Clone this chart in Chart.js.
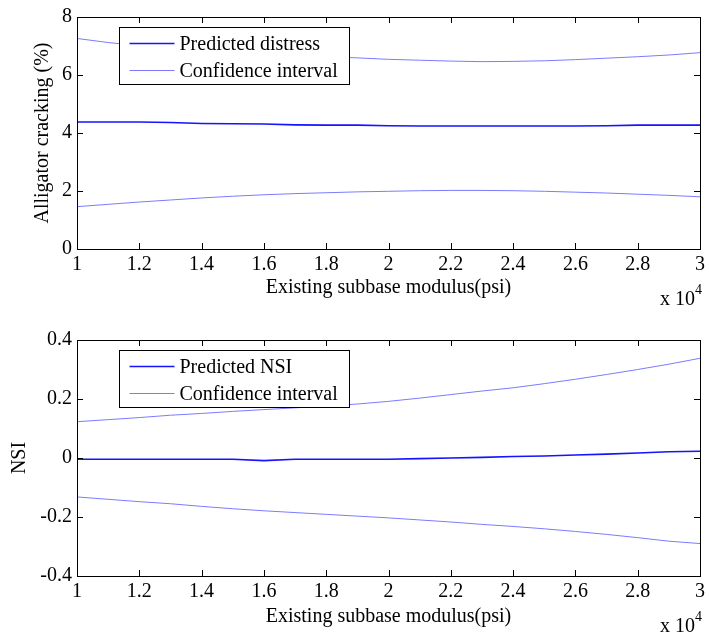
<!DOCTYPE html>
<html>
<head>
<meta charset="utf-8">
<script src="https://cdn.jsdelivr.net/npm/chart.js@4"></script>
<style>
  html, body { margin: 0; padding: 0; background: #fff; }
  .panel { position: absolute; left: 0; width: 709px; }
  #top-panel { top: 0; height: 320px; }
  #bottom-panel { top: 320px; height: 319px; }
</style>
</head>
<body>
<div class="panel" id="top-panel"><canvas id="distressChart" width="709" height="320"></canvas></div>
<div class="panel" id="bottom-panel"><canvas id="nsiChart" width="709" height="319"></canvas></div>
<script>
// Existing subbase modulus (x 10^4 psi)
const modulus = [1.0, 1.1, 1.2, 1.3, 1.4, 1.5, 1.6, 1.7, 1.8, 1.9, 2.0,
  2.1, 2.2, 2.3, 2.4, 2.5, 2.6, 2.7, 2.8, 2.9, 3.0];
const xTicks = [1, 1.2, 1.4, 1.6, 1.8, 2, 2.2, 2.4, 2.6, 2.8, 3];

// Alligator cracking (%)
const distressPredicted = [4.38, 4.38, 4.38, 4.36, 4.33, 4.32, 4.31, 4.28, 4.27, 4.27, 4.25,
  4.24, 4.24, 4.24, 4.24, 4.24, 4.24, 4.25, 4.27, 4.27, 4.27];
const distressUpper = [7.26, 7.12, 7.01, 6.93, 6.86, 6.79, 6.73, 6.68, 6.63, 6.59, 6.54,
  6.51, 6.48, 6.46, 6.47, 6.49, 6.53, 6.58, 6.63, 6.69, 6.77];
const distressLower = [1.46, 1.54, 1.62, 1.69, 1.76, 1.82, 1.87, 1.91, 1.94, 1.97, 1.99,
  2.01, 2.02, 2.02, 2.01, 1.99, 1.96, 1.93, 1.89, 1.85, 1.80];
const distressTicks = [0, 2, 4, 6, 8];

// NSI
const nsiPredicted = [-0.004, -0.004, -0.004, -0.004, -0.004, -0.004, -0.009, -0.004, -0.004, -0.004, -0.004,
  -0.002, 0.0, 0.002, 0.005, 0.007, 0.010, 0.013, 0.017, 0.021, 0.023];
const nsiUpper = [0.123, 0.130, 0.137, 0.145, 0.151, 0.158, 0.164, 0.170, 0.176, 0.183, 0.192,
  0.203, 0.215, 0.227, 0.238, 0.252, 0.267, 0.283, 0.300, 0.318, 0.338];
const nsiLower = [-0.132, -0.140, -0.148, -0.155, -0.164, -0.172, -0.179, -0.185, -0.191, -0.197, -0.203,
  -0.210, -0.217, -0.225, -0.232, -0.240, -0.249, -0.259, -0.270, -0.282, -0.290];
const nsiTicks = [-0.4, -0.2, 0, 0.2, 0.4];

const FONT_FAMILY = '"Liberation Serif", "Times New Roman", serif';
const PRED_COLOR = "#1414ff";
const CI_COLOR = "#7b7bff";

function toPoints(values) {
  return modulus.map((x, i) => ({ x: x, y: values[i] }));
}

// -------------------------
// MATLAB style box, inward ticks, legend and exponent label
// -------------------------
const matlabAxes = {
  id: "matlabAxes",
  afterDraw(chart) {
    const ctx = chart.ctx;
    const area = chart.chartArea;
    const xs = chart.scales.x;
    const ys = chart.scales.y;
    const tickLen = 6;

    ctx.save();
    ctx.strokeStyle = "#000";
    ctx.lineWidth = 1;

    // box
    ctx.strokeRect(Math.round(area.left) + 0.5, Math.round(area.top) + 0.5,
      Math.round(area.right - area.left), Math.round(area.bottom - area.top));

    // inward ticks
    ctx.beginPath();
    xs.ticks.forEach((t) => {
      const px = Math.round(xs.getPixelForValue(t.value)) + 0.5;
      ctx.moveTo(px, area.bottom);
      ctx.lineTo(px, area.bottom - tickLen);
      ctx.moveTo(px, area.top);
      ctx.lineTo(px, area.top + tickLen);
    });
    ys.ticks.forEach((t) => {
      const py = Math.round(ys.getPixelForValue(t.value)) + 0.5;
      ctx.moveTo(area.left, py);
      ctx.lineTo(area.left + tickLen, py);
      ctx.moveTo(area.right, py);
      ctx.lineTo(area.right - tickLen, py);
    });
    ctx.stroke();

    // legend
    const lx = Math.round(area.left) + 42.5;
    const ly = Math.round(area.top) + 10.5;
    const lw = 230;
    const lh = 57;
    ctx.fillStyle = "#fff";
    ctx.fillRect(lx, ly, lw, lh);
    ctx.strokeRect(lx, ly, lw, lh);

    ctx.font = "20px " + FONT_FAMILY;
    ctx.textBaseline = "middle";
    ctx.textAlign = "left";
    const items = chart.data.datasets.filter((d) => d.label);
    items.forEach((d, i) => {
      const rowY = ly + 16 + i * 27;
      ctx.strokeStyle = d.borderColor;
      ctx.lineWidth = d.borderWidth;
      ctx.beginPath();
      ctx.moveTo(lx + 10, rowY);
      ctx.lineTo(lx + 55, rowY);
      ctx.stroke();
      ctx.fillStyle = "#000";
      ctx.fillText(d.label, lx + 60, rowY + 1);
    });

    // x 10^4 exponent
    ctx.fillStyle = "#000";
    ctx.textBaseline = "alphabetic";
    ctx.textAlign = "left";
    ctx.font = "20px " + FONT_FAMILY;
    const baseY = area.bottom + 56;
    ctx.fillText("x 10", 660, baseY);
    ctx.font = "14px " + FONT_FAMILY;
    ctx.fillText("4", 695, baseY - 11);

    ctx.restore();
  },
};

function buildChart(canvasId, opts) {
  const font = { family: FONT_FAMILY, size: 20 };
  return new Chart(document.getElementById(canvasId).getContext("2d"), {
    type: "line",
    data: {
      datasets: [
        {
          label: opts.predLabel,
          data: toPoints(opts.pred),
          borderColor: PRED_COLOR,
          borderWidth: 1.6,
          pointRadius: 0,
          tension: 0,
        },
        {
          label: "Confidence interval",
          data: toPoints(opts.upper),
          borderColor: CI_COLOR,
          borderWidth: 1,
          pointRadius: 0,
          tension: 0,
        },
        {
          label: "",
          data: toPoints(opts.lower),
          borderColor: CI_COLOR,
          borderWidth: 1,
          pointRadius: 0,
          tension: 0,
        },
      ],
    },
    options: {
      responsive: false,
      animation: false,
      layout: { padding: { top: opts.padTop, right: 7, left: 0, bottom: 0 } },
      plugins: {
        legend: { display: false },
        tooltip: { enabled: false },
      },
      scales: {
        x: {
          type: "linear",
          min: 1,
          max: 3,
          afterBuildTicks: (s) => {
            s.ticks = xTicks.map((v) => ({ value: v }));
          },
          afterFit: (s) => {
            s.height = opts.xHeight;
          },
          ticks: {
            color: "#000",
            font: font,
            padding: 4,
            maxRotation: 0,
            autoSkip: false,
            callback: (v) => String(v),
          },
          grid: { display: false, drawTicks: false },
          border: { display: false },
          title: {
            display: true,
            text: "Existing subbase modulus(psi)",
            color: "#000",
            font: font,
            padding: { top: 0, bottom: opts.xTitlePad },
          },
        },
        y: {
          type: "linear",
          min: opts.yTicks[0],
          max: opts.yTicks[opts.yTicks.length - 1],
          afterBuildTicks: (s) => {
            s.ticks = opts.yTicks.map((v) => ({ value: v }));
          },
          afterFit: (s) => {
            s.width = 77;
          },
          ticks: {
            color: "#000",
            font: font,
            padding: 5,
            callback: (v) => String(v),
          },
          grid: { display: false, drawTicks: false },
          border: { display: false },
          title: {
            display: true,
            text: opts.yTitle,
            color: "#000",
            font: font,
            padding: { top: opts.yTitlePad, bottom: 0 },
          },
        },
      },
    },
    plugins: [matlabAxes],
  });
}

buildChart("distressChart", {
  predLabel: "Predicted distress",
  pred: distressPredicted,
  upper: distressUpper,
  lower: distressLower,
  yTicks: distressTicks,
  yTitle: "Alligator cracking (%)",
  padTop: 13,
  xHeight: 71,
  xTitlePad: 20,
  yTitlePad: 31,
});

buildChart("nsiChart", {
  predLabel: "Predicted NSI",
  pred: nsiPredicted,
  upper: nsiUpper,
  lower: nsiLower,
  yTicks: nsiTicks,
  yTitle: "NSI",
  padTop: 20,
  xHeight: 63,
  xTitlePad: 10,
  yTitlePad: 8,
});
</script>
</body>
</html>
